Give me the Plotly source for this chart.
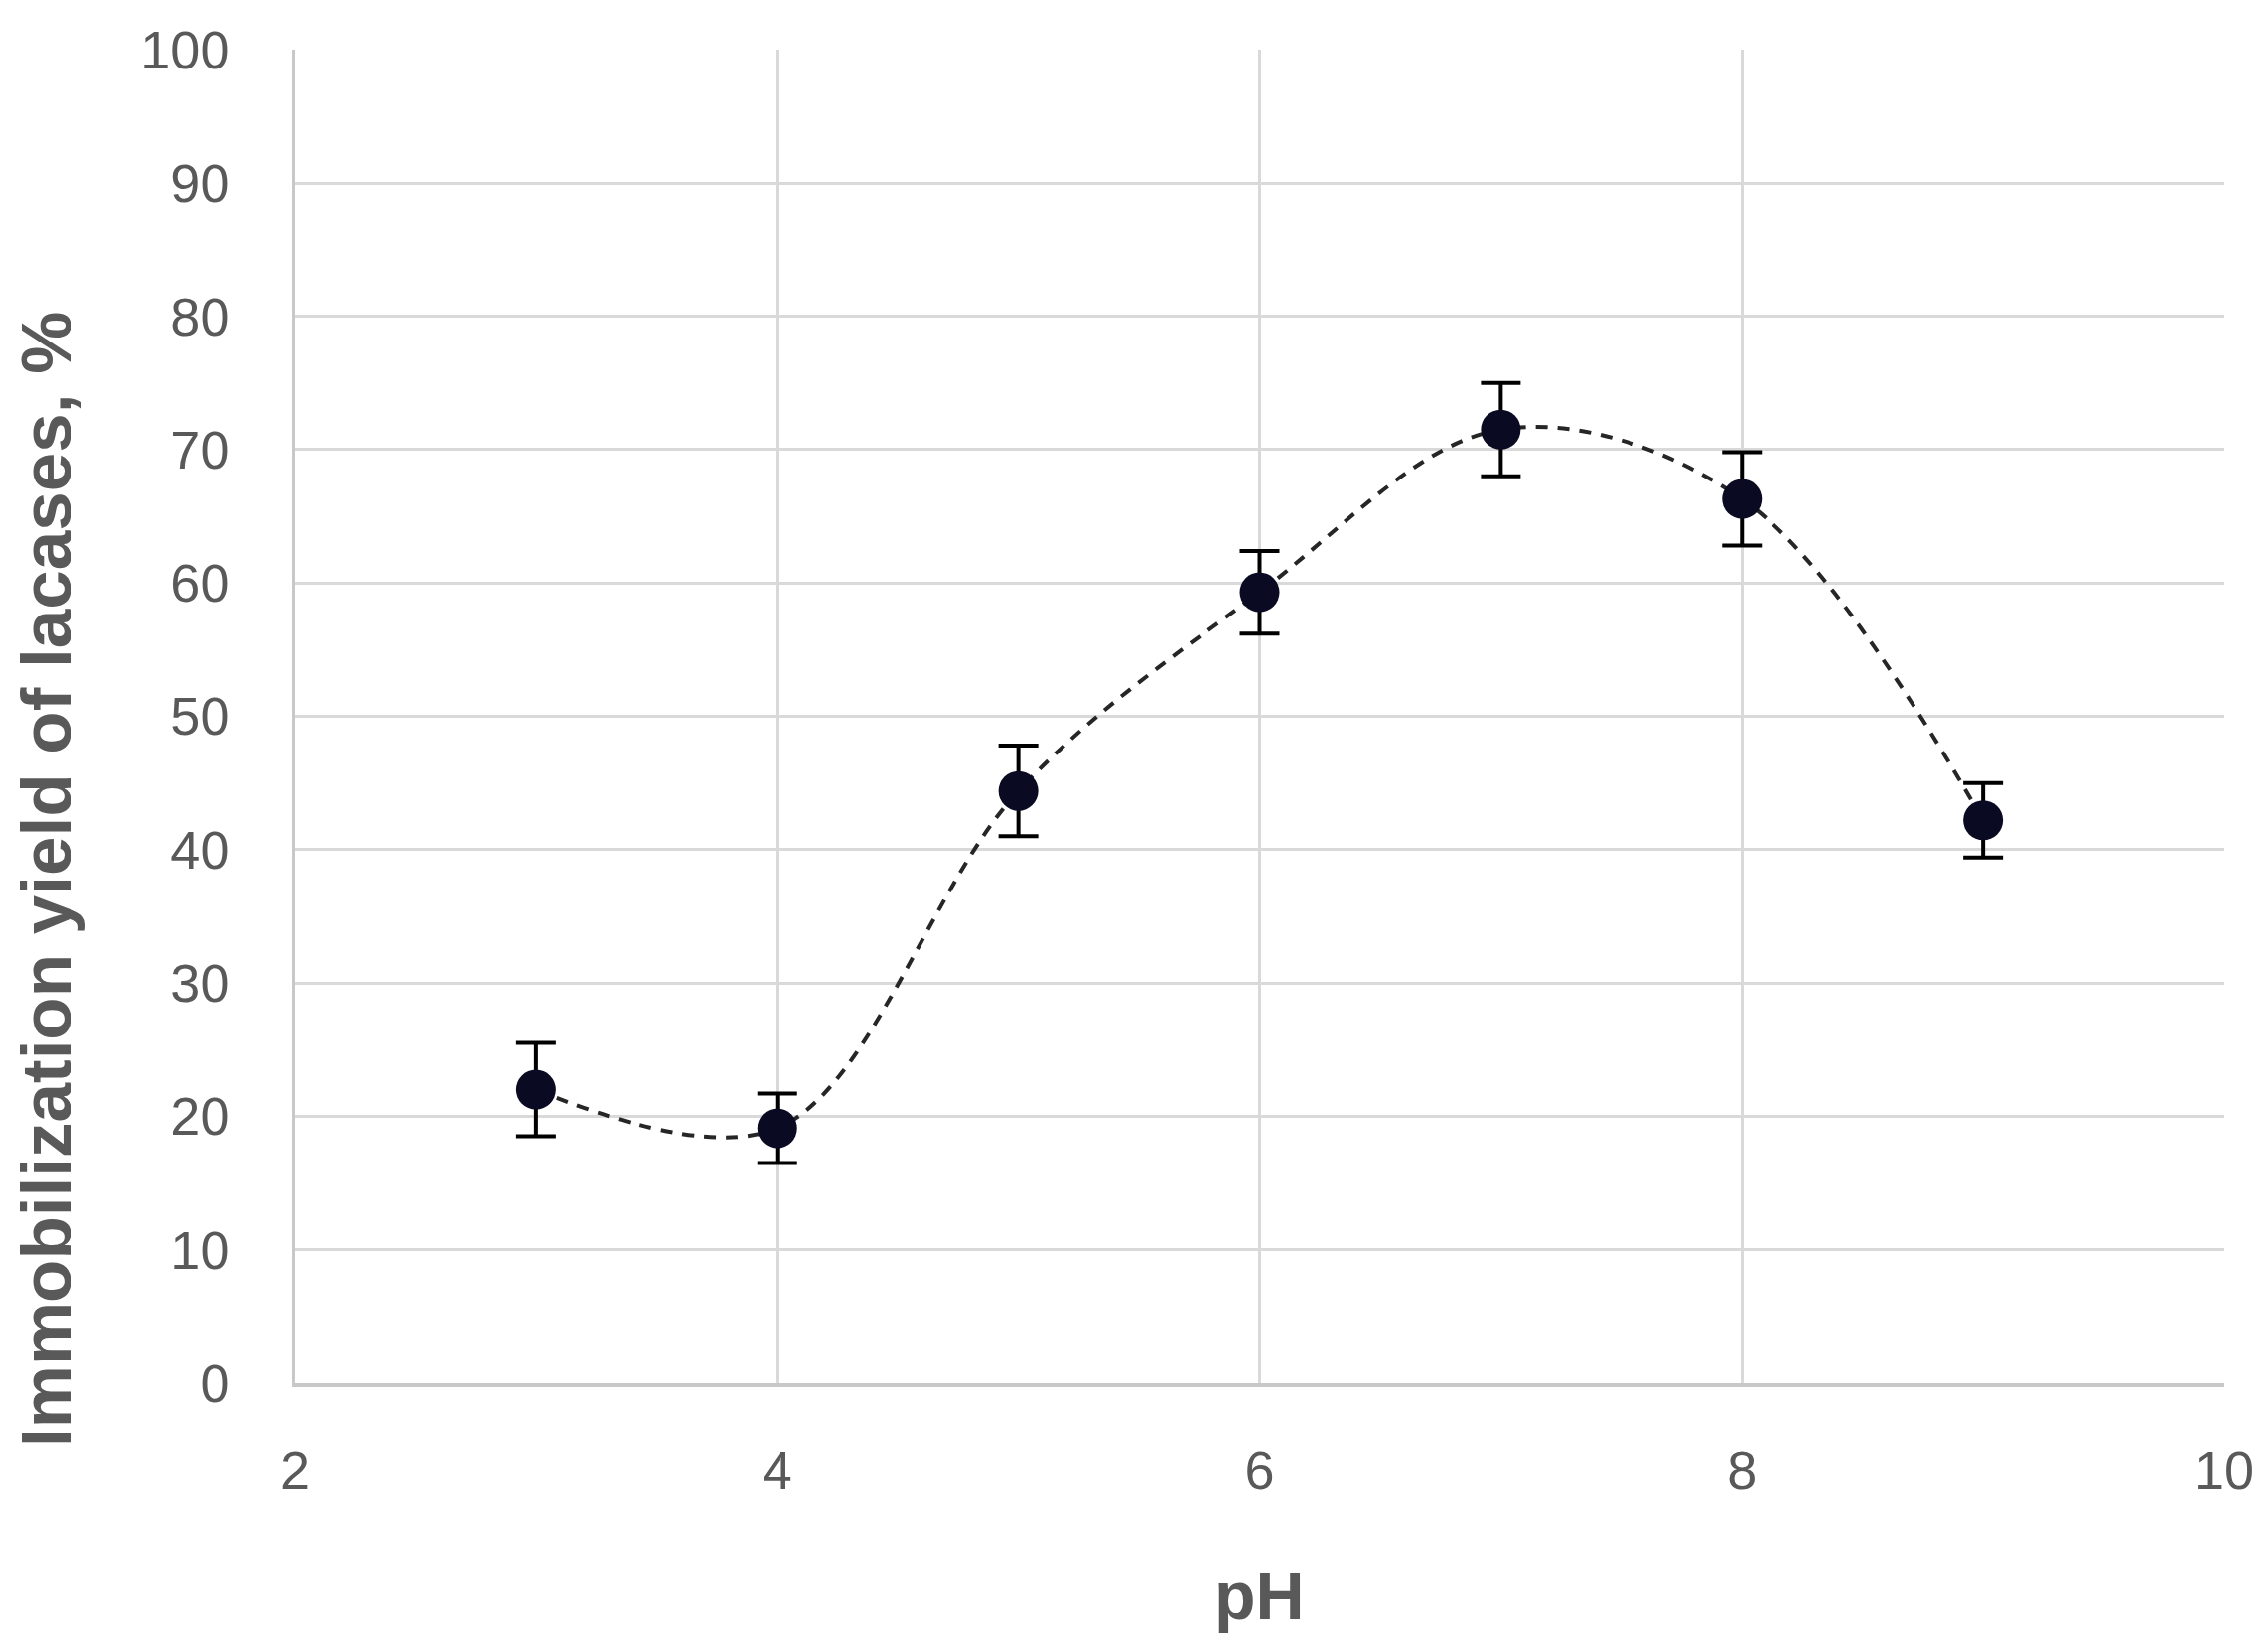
import plotly.graph_objects as go

# Data
ph = [3, 4, 5, 6, 7, 8, 9]
yield_pct = [22.0, 19.1, 44.4, 59.3, 71.5, 66.3, 42.2]
err = [3.5, 2.6, 3.4, 3.1, 3.5, 3.5, 2.8]

x_ticks = [2, 4, 6, 8, 10]
y_ticks = [0, 10, 20, 30, 40, 50, 60, 70, 80, 90, 100]

W, H = 2284, 1655
OFF = 8  # default page body margin
# target plot area in page pixels: left 297, right 2240, top 45, bottom 1393
L, T = 297 - OFF, 45 - OFF
R = W - (2240 - OFF)
B = H - (1393 - OFF)
PW, PH = W - L - R, H - T - B


def px_to_paper_x(px):
    return (px - OFF - L) / PW


def px_to_paper_y(py):
    return (H - B - (py - OFF)) / PH


fig = go.Figure()

# smoothed dashed line
fig.add_trace(go.Scatter(
    x=ph, y=yield_pct, mode="lines",
    line=dict(color="#262626", width=4, dash="12px,10px", shape="spline", smoothing=1.0),
    hoverinfo="skip", showlegend=False,
))

# markers with error bars
fig.add_trace(go.Scatter(
    x=ph, y=yield_pct, mode="markers",
    marker=dict(color="#0a0a22", size=40, line=dict(width=0)),
    error_y=dict(type="data", array=err, visible=True, color="#000000", thickness=4, width=20),
    showlegend=False,
))

grid = "#d9d9d9"
fig.update_layout(
    width=W, height=H,
    margin=dict(l=L, r=R, t=T, b=B),
    paper_bgcolor="white", plot_bgcolor="white",
    font=dict(family="Liberation Sans, Arial, sans-serif", color="#595959"),
    xaxis=dict(
        range=[2, 10], tickvals=x_ticks, ticktext=[str(v) for v in x_ticks],
        showgrid=True, gridcolor=grid, gridwidth=2.5,
        zeroline=False, showline=True, linecolor="#c8c8c8", linewidth=4,
        ticks="", tickfont=dict(size=54, color="#595959"),
        ticklabelstandoff=38,
    ),
    yaxis=dict(
        range=[0, 100], tickvals=y_ticks, ticktext=[str(v) for v in y_ticks],
        showgrid=True, gridcolor=grid, gridwidth=2.5,
        zeroline=False, showline=True, linecolor="#c8c8c8", linewidth=2.5,
        ticks="", tickfont=dict(size=54, color="#595959"),
        ticklabelstandoff=52,
    ),
    annotations=[
        dict(text="<b>Immobilization yield of lacases, %</b>", textangle=-90,
             xref="paper", yref="paper", x=px_to_paper_x(47), y=px_to_paper_y(884),
             xanchor="center", yanchor="middle", showarrow=False,
             font=dict(size=71, color="#595959", family="Liberation Sans, Arial, sans-serif")),
        dict(text="<b>pH</b>",
             xref="paper", yref="paper", x=0.5, y=px_to_paper_y(1608),
             xanchor="center", yanchor="middle", showarrow=False,
             font=dict(size=68, color="#595959", family="Liberation Sans, Arial, sans-serif")),
    ],
)

fig.write_html("out.html")
